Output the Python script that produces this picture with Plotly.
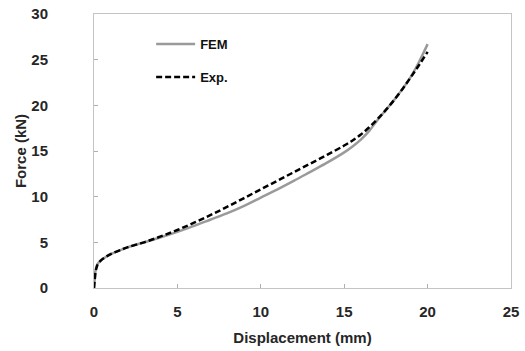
import plotly.graph_objects as go

# Data
fem_x = [0, 0.05, 0.1, 0.2, 0.4, 0.7, 1, 1.5, 2, 3, 4, 5, 6, 7, 8, 9, 10, 11, 12, 13, 14, 15, 15.5, 16, 16.5, 17, 17.5, 18, 18.5, 19, 19.5, 20]
fem_y = [0, 1.2, 2.0, 2.6, 3.0, 3.4, 3.7, 4.1, 4.45, 5.0, 5.55, 6.15, 6.8, 7.5, 8.2, 9.0, 9.9, 10.8, 11.75, 12.75, 13.75, 14.85, 15.5, 16.25, 17.2, 18.4, 19.5, 20.6, 21.8, 23.15, 24.8, 26.7]

exp_x = [0, 0.05, 0.1, 0.2, 0.4, 0.7, 1, 1.5, 2, 3, 4, 5, 6, 7, 8, 9, 10, 11, 12, 13, 14, 15, 15.5, 16, 16.5, 17, 17.5, 18, 18.5, 19, 19.5, 20]
exp_y = [0, 1.0, 1.8, 2.5, 3.0, 3.4, 3.7, 4.1, 4.45, 5.0, 5.65, 6.35, 7.15, 8.0, 8.9, 9.85, 10.8, 11.75, 12.7, 13.65, 14.6, 15.6, 16.15, 16.8, 17.6, 18.5, 19.5, 20.6, 21.8, 23.1, 24.45, 25.85]

x_ticks = [0, 5, 10, 15, 20, 25]
y_ticks = [0, 5, 10, 15, 20, 25, 30]

FONT = "Liberation Sans, Arial, sans-serif"
TXT = "#262626"

fig = go.Figure()
fig.add_trace(go.Scatter(x=fem_x, y=fem_y, mode="lines", name="FEM",
                         legendgroup="a",
                         line=dict(color="#9a9a9a", width=2.5, shape="spline")))
fig.add_trace(go.Scatter(x=exp_x, y=exp_y, mode="lines", name="Exp.",
                         legendgroup="b",
                         line=dict(color="#000000", width=2.5, dash="6px,3px", shape="spline")))

axis_common = dict(
    showline=True, linecolor="#c4c4c4", linewidth=1, mirror=True,
    ticks="inside", ticklen=4, tickcolor="#b0b0b0",
    showgrid=False, zeroline=False, automargin=False,
    ticklabeloverflow="allow",
    tickfont=dict(family=FONT, size=15, color=TXT, weight="bold"),
)

fig.update_xaxes(range=[0, 25], tickvals=x_ticks, ticklabelstandoff=10,
                 title=dict(text="Displacement (mm)", standoff=13,
                            font=dict(family=FONT, size=15, color=TXT, weight="bold")),
                 **axis_common)
fig.update_yaxes(range=[0, 30], tickvals=y_ticks, ticklabelstandoff=42,
                 title=dict(text="Force (kN)", standoff=1,
                            font=dict(family=FONT, size=15, color=TXT, weight="bold")),
                 **axis_common)

fig.update_layout(
    width=525, height=351,
    margin=dict(l=94, r=14, t=14, b=63),
    paper_bgcolor="white", plot_bgcolor="white",
    legend=dict(x=0.137, y=0.945, xanchor="left", yanchor="top",
                traceorder="grouped", tracegroupgap=13, itemwidth=39,
                bgcolor="rgba(0,0,0,0)",
                font=dict(family=FONT, size=13, color="#111111", weight="bold")),
    showlegend=True,
)

# remove the default page margin so the figure sits at the window's top-left corner
fig.write_html("out.html", config={"displayModeBar": False},
               post_script="document.body.style.margin='0';")
